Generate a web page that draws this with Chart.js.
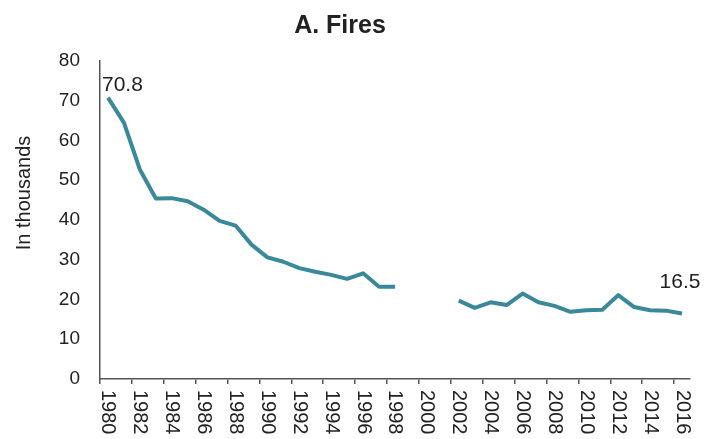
<!DOCTYPE html>
<html>
<head>
<meta charset="utf-8">
<script src="https://cdn.jsdelivr.net/npm/chart.js@4/dist/chart.umd.min.js"></script>
<style>
  html, body { margin: 0; padding: 0; background: #fff; }
  #wrap { width: 704px; height: 439px; }
</style>
</head>
<body>
<div id="wrap"><canvas id="fires" width="704" height="439"></canvas></div>
<script>
// years 1980-2016, values in thousands (1999-2001 missing)
const years = [];
for (let y = 1980; y <= 2016; y++) years.push(String(y));

const fires = [
  70.8, 64.5, 52.7, 45.4, 45.5, 44.7, 42.6, 39.8, 38.6, 33.8,
  30.6, 29.5, 27.9, 27.0, 26.2, 25.2, 26.6, 23.2, 23.2,
  null, null, null,
  19.7, 17.9, 19.3, 18.6, 21.5, 19.3, 18.4, 16.9, 17.3, 17.4,
  21.1, 18.1, 17.3, 17.2, 16.5
];

const yTicks = [0, 10, 20, 30, 40, 50, 60, 70, 80];

const FONT = "'Liberation Sans', Arial, sans-serif";
const INK = '#222';
const AXIS = '#555';

// title, axis title, rotated year labels and end-point labels
const textPlugin = {
  id: 'textPlugin',
  afterDraw(chart) {
    const ctx = chart.ctx;
    const xs = chart.scales.x;
    ctx.save();
    ctx.fillStyle = INK;

    ctx.font = 'bold 25px ' + FONT;
    ctx.textAlign = 'center';
    ctx.textBaseline = 'alphabetic';
    ctx.fillText('A. Fires', 340, 33);

    ctx.save();
    ctx.translate(24, 193);
    ctx.rotate(-Math.PI / 2);
    ctx.font = '20px ' + FONT;
    ctx.textBaseline = 'middle';
    ctx.fillText('In thousands', 0, 0);
    ctx.restore();

    // year labels every 2 years, reading top to bottom
    ctx.font = '20px ' + FONT;
    years.forEach((lab, i) => {
      if (i % 2) return;
      ctx.save();
      ctx.translate(xs.getPixelForValue(i), 390);
      ctx.rotate(Math.PI / 2);
      ctx.textAlign = 'left';
      ctx.textBaseline = 'middle';
      ctx.fillText(lab, 0, 0);
      ctx.restore();
    });

    // first and last values
    const pts = chart.getDatasetMeta(0).data;
    const first = pts[0], last = pts[pts.length - 1];
    ctx.font = '21px ' + FONT;
    ctx.textAlign = 'left';
    ctx.fillText(fires[0].toFixed(1), first.x - 6, first.y - 7);
    ctx.textAlign = 'center';
    ctx.fillText(fires[fires.length - 1].toFixed(1), last.x - 2, last.y - 25);
    ctx.restore();
  }
};

new Chart(document.getElementById('fires'), {
  type: 'line',
  data: {
    labels: years,
    datasets: [{
      label: 'Fires',
      data: fires,
      borderColor: '#39899b',
      borderWidth: 4,
      pointRadius: 0,
      tension: 0,
      spanGaps: false,
      borderJoinStyle: 'round'
    }]
  },
  options: {
    responsive: false,
    animation: false,
    layout: { padding: { left: 0, right: 14, top: 61, bottom: 0 } },
    plugins: {
      legend: { display: false },
      title: { display: false },
      tooltip: { enabled: false }
    },
    scales: {
      x: {
        type: 'category',
        offset: true,
        afterFit: s => { s.height = 60; },
        grid: {
          offset: true,
          drawOnChartArea: false,
          tickLength: 5,
          tickColor: c => (c.index % 2 === 0 ? AXIS : 'rgba(0,0,0,0)'),
          lineWidth: 1.5
        },
        border: { color: AXIS, width: 1.5 },
        ticks: { display: false, autoSkip: false }
      },
      y: {
        min: 0,
        max: 80,
        afterFit: s => { s.width = 100; },
        afterBuildTicks: s => { s.ticks = yTicks.map(v => ({ value: v })); },
        grid: { drawOnChartArea: false, drawTicks: false },
        border: { color: AXIS, width: 1.5 },
        ticks: { padding: 20, color: INK, font: { family: FONT, size: 19 } }
      }
    }
  },
  plugins: [textPlugin]
});
</script>
</body>
</html>
